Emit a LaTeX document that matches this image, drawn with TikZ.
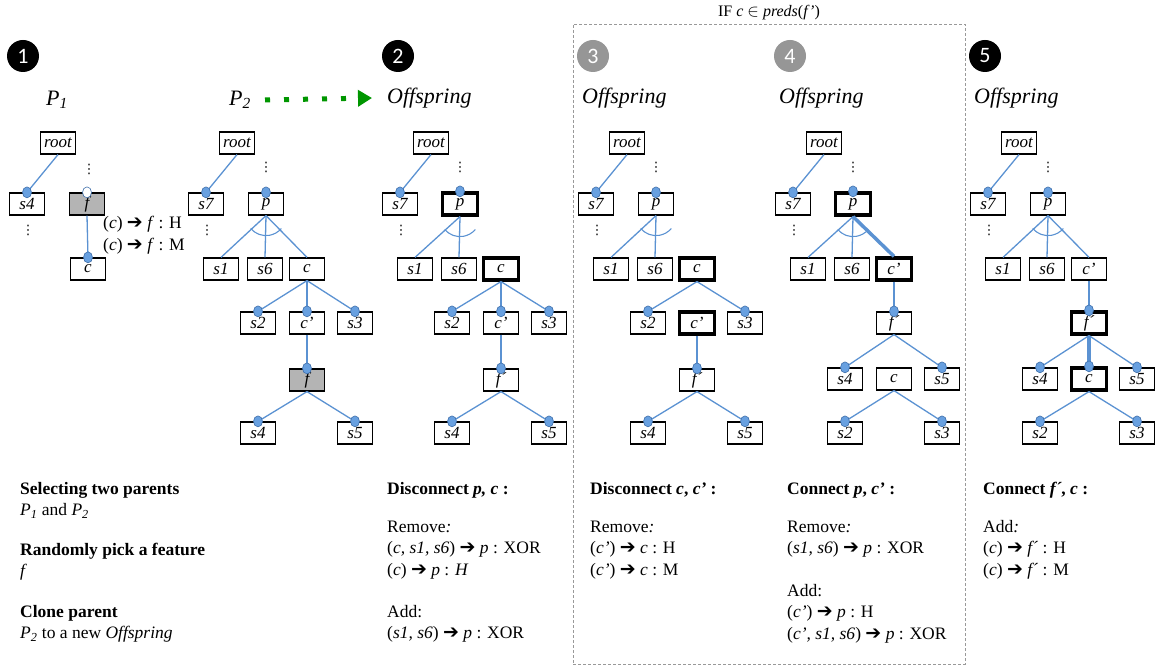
\documentclass[tikz,border=0pt]{standalone}
\usepackage{fontspec}
\setmainfont{Liberation Serif}
\newfontfamily\badgefont{Carlito}
\newfontfamily\symfont{DejaVu Sans}
\usetikzlibrary{arrows.meta,positioning,calc,shapes.geometric}
\definecolor{linkblue}{RGB}{91,146,210}
\definecolor{dotblue}{RGB}{104,160,224}
\definecolor{dotedge}{RGB}{62,110,170}
\definecolor{pickgray}{RGB}{180,180,180}
\definecolor{badgegray}{RGB}{150,150,150}
\definecolor{clonegreen}{RGB}{0,150,0}
\newcommand{\ra}{{\symfont\fontsize{19}{19}\selectfont ➔}}
\newcommand{\vd}{{\symfont\fontsize{13}{13}\selectfont ⋮}}
\newcommand{\port}[1]{\filldraw[portdot] (#1.north) ellipse[x radius=4.5, y radius=5.5];}
\newcommand{\openport}[1]{\filldraw[portdot, fill=white] (#1.north) ellipse[x radius=4.5, y radius=5.5];}
\tikzset{
  feat/.style={draw, line width=1.2pt, fill=white, minimum width=35pt, minimum height=22pt,
               inner sep=0pt, font=\fontsize{17}{17}\selectfont\itshape},
  featsel/.style={feat, line width=3.2pt},
  featpick/.style={feat, fill=pickgray},
  link/.style={draw=linkblue, line width=1.3pt},
  boldlink/.style={link, line width=3.5pt},
  portdot/.style={draw=dotedge, fill=dotblue, line width=0.6pt},
  xorarc/.style={draw=linkblue, line width=1.1pt},
  more/.style={inner sep=0pt},
  badge/.style={circle, fill=black, text=white, minimum size=32pt, inner sep=0pt,
                font=\badgefont\fontsize{22}{22}\selectfont},
  badgeoff/.style={badge, fill=badgegray},
  title/.style={font=\fontsize{22}{22}\selectfont\itshape, inner sep=0pt},
  steptext/.style={anchor=north west, align=left, inner sep=0pt, font=\fontsize{17.5}{21.5}\selectfont},
  note/.style={steptext},
  frame/.style={draw=gray!80, dash pattern=on 3pt off 2pt, line width=0.7pt, inner sep=0pt},
  framelabel/.style={font=\fontsize{16}{16}\selectfont, inner sep=0pt},
  clonearrow/.style={draw=clonegreen, line width=5pt, dash pattern=on 5pt off 14pt,
                     -{Triangle[length=14pt, width=16pt]}},
}
\begin{document}
\begin{tikzpicture}[x=1pt,y=1pt]
\useasboundingbox (0,0) rectangle (1156,-668);

% ============================ badges and captions =====================
\node[badge] (n1) at (23,-56) {1};
\node[badge] (n2) at (398,-56) {2};
\node[badgeoff] (n3) at (593,-56) {3};
\node[badgeoff] (n4) at (790,-56) {4};
\node[badge] (n5) at (985,-56) {5};

\node[title] (capa) at (57,-100) {P\textsubscript{1}};
\node[title] (capb) at (240,-100) {P\textsubscript{2}};
\node[title, anchor=west] (capu) at (387,-98) {Offspring};
\node[title, anchor=west] (capv) at (582,-98) {Offspring};
\node[title, anchor=west] (capw) at (779,-98) {Offspring};
\node[title, anchor=west] (capz) at (974,-98) {Offspring};

% cloning P2 into the offspring
\draw[clonearrow] ([xshift=14pt]capb.east) -- ([xshift=-15pt]capu.west);

% steps 3 and 4 only apply under a condition
\node[frame, minimum width=392pt, minimum height=640pt] (ifbox) at (769,-344) {};
\node[framelabel, above=4pt of ifbox.north] (iflabel) {IF \textit{c} $\in$ \textit{preds}(\textit{f’})};

% ============================ parent P1 ===============================
\node[feat] (aroot) at (58,-143) {root};
\node[feat] (as4) at (27,-204) {s4};
\node[featpick] (af) at (87,-204) {f};
\node[feat] (ac) at (88,-269) {c};
\node[more] (am1) at (89,-169) {\vd};
\node[more] (am2) at (28,-230) {\vd};
\node[note] (anote) at (103,-216) {(\textit{c}) \ra{} \textit{f} : H\\(\textit{c}) \ra{} \textit{f} : M};
\draw[link] (aroot.south) -- (as4.north);
\draw[link] (af.south) -- (ac.north);
\port{as4} \openport{af} \port{ac}

% ============================ parent P2 ===============================
\node[feat] (broot) at (237,-143) {root};
\node[feat] (bs7) at (206,-204) {s7};
\node[feat] (bp) at (266,-204) {p};
\node[more] (bm1) at (266,-167) {\vd};
\node[more] (bm2) at (207,-230) {\vd};
\node[feat] (bs1) at (221,-269) {s1};
\node[feat] (bs6) at (265,-269) {s6};
\node[feat] (bc) at (307,-269) {c};
\node[feat] (bs2) at (258,-323) {s2};
\node[feat] (bcc) at (307,-323) {c’};
\node[feat] (bs3) at (355,-323) {s3};
\node[featpick] (bf) at (307,-380) {f};
\node[feat] (bs4) at (258,-433) {s4};
\node[feat] (bs5) at (355,-433) {s5};
\draw[link] (broot.south) -- (bs7.north);
\draw[link] (bp.south) -- (bs1.north);
\draw[link] (bp.south) -- (bs6.north);
\draw[link] (bp.south) -- (bc.north);
\draw[xorarc] ([shift={(220:20)}]bp.south) arc[start angle=220, end angle=320, radius=20];
\draw[link] (bc.south) -- (bs2.north);
\draw[link] (bc.south) -- (bcc.north);
\draw[link] (bc.south) -- (bs3.north);
\draw[link] (bcc.south) -- (bf.north);
\draw[link] (bf.south) -- (bs4.north);
\draw[link] (bf.south) -- (bs5.north);
\port{bs7} \port{bp} \port{bs2} \port{bcc} \port{bs3} \port{bf} \port{bs4} \port{bs5}

% ============================ step 2: disconnect p, c =================
\begin{scope}[xshift=194pt]
\node[feat] (uroot) at (237,-143) {root};
\node[feat] (us7) at (206,-204) {s7};
\node[featsel] (up) at (266,-204) {p};
\node[more] (um1) at (266,-167) {\vd};
\node[more] (um2) at (207,-230) {\vd};
\node[feat] (us1) at (221,-269) {s1};
\node[feat] (us6) at (265,-269) {s6};
\node[featsel] (uc) at (307,-269) {c};
\node[feat] (us2) at (258,-323) {s2};
\node[feat] (ucc) at (307,-323) {c’};
\node[feat] (us3) at (355,-323) {s3};
\node[feat] (uf) at (307,-380) {f´};
\node[feat] (us4) at (258,-433) {s4};
\node[feat] (us5) at (355,-433) {s5};
\end{scope}
\draw[link] (uroot.south) -- (us7.north);
\draw[link] (up.south) -- (us1.north);
\draw[link] (up.south) -- (us6.north);
\draw[xorarc] ([shift={(220:20)}]up.south) arc[start angle=220, end angle=320, radius=20];
\draw[link] (uc.south) -- (us2.north);
\draw[link] (uc.south) -- (ucc.north);
\draw[link] (uc.south) -- (us3.north);
\draw[link] (ucc.south) -- (uf.north);
\draw[link] (uf.south) -- (us4.north);
\draw[link] (uf.south) -- (us5.north);
\port{us7} \port{up} \port{us2} \port{ucc} \port{us3} \port{uf} \port{us4} \port{us5}

% ============================ step 3: disconnect c, c' ================
\begin{scope}[xshift=390pt]
\node[feat] (vroot) at (237,-143) {root};
\node[feat] (vs7) at (206,-204) {s7};
\node[feat] (vp) at (266,-204) {p};
\node[more] (vm1) at (266,-167) {\vd};
\node[more] (vm2) at (207,-230) {\vd};
\node[feat] (vs1) at (221,-269) {s1};
\node[feat] (vs6) at (265,-269) {s6};
\node[featsel] (vc) at (307,-269) {c};
\node[feat] (vs2) at (258,-323) {s2};
\node[featsel] (vcc) at (307,-323) {c’};
\node[feat] (vs3) at (355,-323) {s3};
\node[feat] (vf) at (307,-380) {f´};
\node[feat] (vs4) at (258,-433) {s4};
\node[feat] (vs5) at (355,-433) {s5};
\end{scope}
\draw[link] (vroot.south) -- (vs7.north);
\draw[link] (vp.south) -- (vs1.north);
\draw[link] (vp.south) -- (vs6.north);
\draw[xorarc] ([shift={(220:20)}]vp.south) arc[start angle=220, end angle=320, radius=20];
\draw[link] (vc.south) -- (vs2.north);
\draw[link] (vc.south) -- (vs3.north);
\draw[link] (vcc.south) -- (vf.north);
\draw[link] (vf.south) -- (vs4.north);
\draw[link] (vf.south) -- (vs5.north);
\port{vs7} \port{vp} \port{vs2} \port{vs3} \port{vf} \port{vs4} \port{vs5}

% ============================ step 4: connect p, c' ===================
\begin{scope}[xshift=587pt]
\node[feat] (wroot) at (237,-143) {root};
\node[feat] (ws7) at (206,-204) {s7};
\node[featsel] (wp) at (266,-204) {p};
\node[more] (wm1) at (266,-167) {\vd};
\node[more] (wm2) at (207,-230) {\vd};
\node[feat] (ws1) at (221,-269) {s1};
\node[feat] (ws6) at (265,-269) {s6};
\node[featsel] (wcc) at (307,-269) {c’};
\node[feat] (wf) at (307,-323) {f´};
\node[feat] (ws4) at (258,-379) {s4};
\node[feat] (wc) at (307,-379) {c};
\node[feat] (ws5) at (355,-379) {s5};
\node[feat] (ws2) at (258,-433) {s2};
\node[feat] (ws3) at (355,-433) {s3};
\end{scope}
\draw[link] (wroot.south) -- (ws7.north);
\draw[link] (wp.south) -- (ws1.north);
\draw[link] (wp.south) -- (ws6.north);
\draw[boldlink] (wp.south) -- (wcc.north);
\draw[xorarc] ([shift={(220:20)}]wp.south) arc[start angle=220, end angle=320, radius=20];
\draw[link] (wcc.south) -- (wf.north);
\draw[link] (wf.south) -- (ws4.north);
\draw[link] (wf.south) -- (ws5.north);
\draw[link] (wc.south) -- (ws2.north);
\draw[link] (wc.south) -- (ws3.north);
\port{ws7} \port{wp} \port{wf} \port{ws4} \port{ws5} \port{ws2} \port{ws3}

% ============================ step 5: connect f', c ===================
\begin{scope}[xshift=782pt]
\node[feat] (zroot) at (237,-143) {root};
\node[feat] (zs7) at (206,-204) {s7};
\node[feat] (zp) at (266,-204) {p};
\node[more] (zm1) at (266,-167) {\vd};
\node[more] (zm2) at (207,-230) {\vd};
\node[feat] (zs1) at (221,-269) {s1};
\node[feat] (zs6) at (265,-269) {s6};
\node[feat] (zcc) at (307,-269) {c’};
\node[featsel] (zf) at (307,-323) {f´};
\node[feat] (zs4) at (258,-379) {s4};
\node[featsel] (zc) at (307,-379) {c};
\node[feat] (zs5) at (355,-379) {s5};
\node[feat] (zs2) at (258,-433) {s2};
\node[feat] (zs3) at (355,-433) {s3};
\end{scope}
\draw[link] (zroot.south) -- (zs7.north);
\draw[link] (zp.south) -- (zs1.north);
\draw[link] (zp.south) -- (zs6.north);
\draw[link] (zp.south) -- (zcc.north);
\draw[xorarc] ([shift={(220:20)}]zp.south) arc[start angle=220, end angle=320, radius=20];
\draw[link] (zcc.south) -- (zf.north);
\draw[link] (zf.south) -- (zs4.north);
\draw[boldlink] (zf.south) -- (zc.north);
\draw[link] (zf.south) -- (zs5.north);
\draw[link] (zc.south) -- (zs2.north);
\draw[link] (zc.south) -- (zs3.north);
\port{zs7} \port{zp} \port{zf} \port{zs4} \port{zc} \port{zs5} \port{zs2} \port{zs3}

% ============================ step descriptions =======================
\node[steptext] (t1a) at (20,-479) {\strut\textbf{Selecting two parents}\\
  \textit{P}\textsubscript{\textit{1}} and \textit{P}\textsubscript{\textit{2}}};
\node[steptext] (t1b) at (20,-540) {\strut\textbf{Randomly pick a feature}\\\textit{f}};
\node[steptext] (t1c) at (20,-602) {\strut\textbf{Clone parent}\\
  \textit{P}\textsubscript{\textit{2}} to a new \textit{Offspring}};

\node[steptext] (t2a) at (387,-479) {\strut\textbf{Disconnect \textit{p, c} :}};
\node[steptext] (t2b) at (387,-517) {\strut Remove\textit{:}\\
  (\textit{c, s1, s6}) \ra{} \textit{p} : XOR\\(\textit{c}) \ra{} \textit{p} : \textit{H}};
\node[steptext] (t2c) at (387,-602) {\strut Add:\\(\textit{s1, s6}) \ra{} \textit{p} : XOR};

\node[steptext] (t3a) at (590,-479) {\strut\textbf{Disconnect \textit{c}, \textit{c’} :}};
\node[steptext] (t3b) at (590,-517) {\strut Remove\textit{:}\\
  (\textit{c’}) \ra{} \textit{c} : H\\(\textit{c’}) \ra{} \textit{c} : M};

\node[steptext] (t4a) at (787,-479) {\strut\textbf{Connect \textit{p}, \textit{c’} :}};
\node[steptext] (t4b) at (787,-517) {\strut Remove\textit{:}\\(\textit{s1, s6}) \ra{} \textit{p} : XOR};
\node[steptext] (t4c) at (787,-581) {\strut Add:\\(\textit{c’}) \ra{} \textit{p} : H\\
  (\textit{c’, s1, s6}) \ra{} \textit{p} : XOR};

\node[steptext] (t5a) at (983,-479) {\strut\textbf{Connect \textit{f´}, \textit{c} :}};
\node[steptext] (t5b) at (983,-517) {\strut Add\textit{:}\\
  (\textit{c}) \ra{} \textit{f´} : H\\(\textit{c}) \ra{} \textit{f´} : M};

\end{tikzpicture}
\end{document}
